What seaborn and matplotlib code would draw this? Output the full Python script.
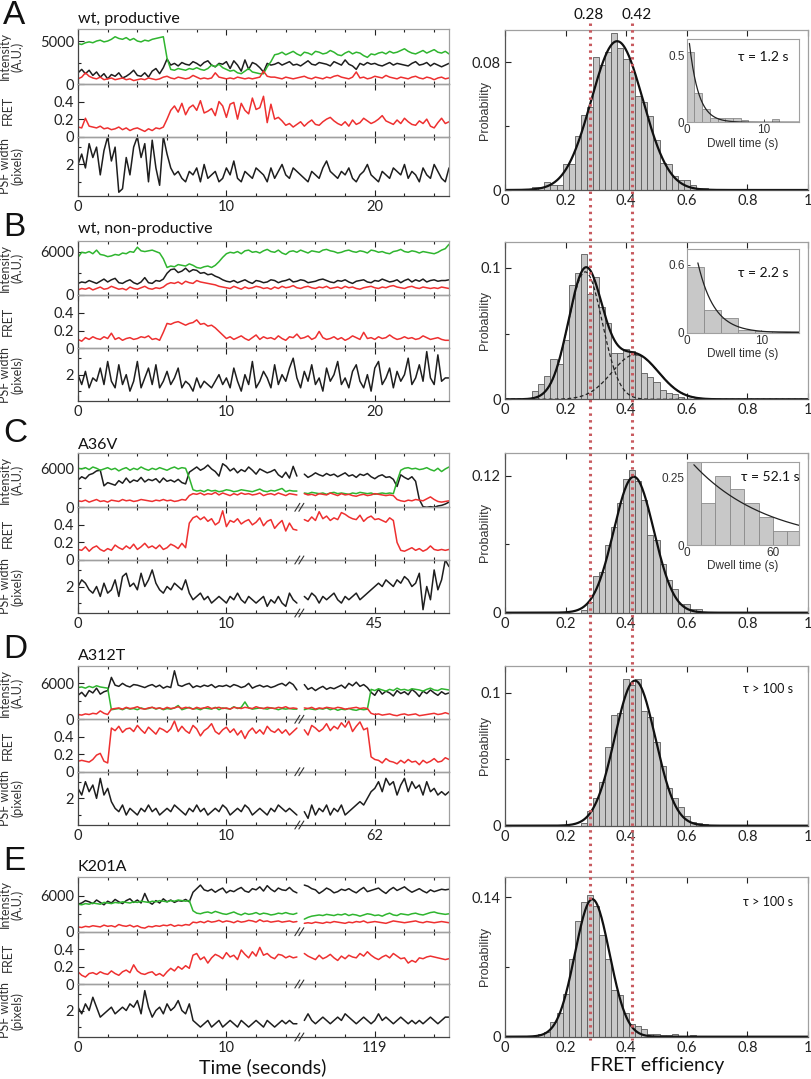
import numpy as np
import pandas as pd
import matplotlib
matplotlib.use('Agg')
import matplotlib.pyplot as plt
import seaborn as sns
from matplotlib.lines import Line2D
from matplotlib.ticker import FixedLocator, MultipleLocator

# ---------------------------------------------------------------- data
# time step of the traces (s)
DT = 0.25
panels = ['A', 'B', 'C', 'D', 'E']
titles = ['wt, productive', 'wt, non-productive', 'A36V', 'A312T', 'K201A']
third_tick = ['20', '20', '45', '62', '119']

# intensities in units of 100 A.U.; FRET in 0.01; PSF width in 0.1 pixel
A_green = [47,46,48,49,48,50,51,49,50,52,55,53,52,54,51,53,50,49,51,50,52,53,54,55,
           30,17,16,18,17,16,18,17,19,17,16,18,22,20,23,19,17,15,16,13,12,15,18,14,13,12,12,
           20,26,34,35,37,34,36,38,35,33,37,36,34,38,37,35,36,39,37,34,33,36,38,35,37,36,33,
           31,35,34,36,37,35,38,36,37,39,41,38,36,35,37,39,36,38,40,37,36,38,35]
A_black = [13,17,12,16,10,14,8,12,6,11,9,13,7,9,12,16,10,9,13,8,15,18,12,19,29,
           22,24,21,25,23,22,26,24,21,25,27,22,20,24,23,26,18,27,22,15,28,17,25,23,19,14,24,22,
           23,25,22,24,26,22,23,21,24,27,23,22,25,24,23,21,26,24,22,28,23,21,17,24,22,25,23,24,
           22,21,23,25,22,24,23,22,21,24,26,22,23,25,21,24,22,20,22,24]
A_red = [6,8,13,9,7,6,8,5,6,7,5,6,7,5,6,4,5,6,5,7,6,5,6,8,
         9,7,6,8,7,6,7,10,8,6,7,6,7,13,8,7,6,7,6,8,7,6,7,6,7,8,15,9,8,
         8,7,6,8,7,6,7,8,9,7,6,8,7,6,8,7,9,10,8,7,6,8,14,7,8,6,7,9,8,7,10,8,7,6,8,7,6,8,9,7,
         6,8,7,5,7,8,6,7]
A_fret = [11,10,21,12,11,10,12,9,10,8,9,11,8,10,7,9,10,8,6,9,7,10,9,11,20,
          30,35,28,38,25,33,36,30,41,27,29,32,24,40,35,22,37,39,20,38,30,26,44,31,33,46,16,37,
          20,22,18,13,15,11,14,17,12,16,19,14,13,17,20,22,18,15,13,17,12,19,14,16,21,18,15,17,
          20,24,18,16,14,19,15,21,17,14,13,18,15,20,12,10,16,21,15,17]
A_psf = [20,23,19,26,22,25,17,24,28,21,25,12,13,22,17,25,28,22,26,15,27,19,14,28,23,
         19,17,18,16,15,18,17,19,15,20,16,17,18,15,16,19,17,21,16,15,18,17,16,19,18,17,15,19,
         16,18,20,17,16,19,18,17,16,15,18,17,16,19,21,18,17,16,18,17,19,16,15,17,18,20,17,16,
         15,18,17,16,19,18,17,20,16,18,17,15,19,17,16,20,18,16,15,19]

B_green = [52,59,58,60,57,62,56,55,53,54,56,55,58,57,60,59,66,61,60,61,62,60,58,
           50,38,40,39,42,41,40,43,41,38,37,39,40,38,41,46,
           52,57,59,58,60,57,61,62,59,60,58,61,63,60,59,62,58,56,60,61,59,62,60,58,61,60,59,62,
           63,61,60,58,59,61,62,60,59,61,60,58,62,61,59,60,58,57,60,61,63,60,59,61,60,58,60,59,
           58,57,59,62,64,70]
B_black = [16,18,17,20,18,16,19,22,18,21,23,17,16,19,21,17,15,18,24,17,16,20,19,
           22,30,35,36,31,33,37,32,35,34,30,31,28,29,26,24,
           21,19,18,20,17,19,21,18,16,20,19,17,18,21,20,17,19,20,22,18,19,21,20,17,18,19,21,22,
           20,18,17,20,19,21,18,16,19,20,21,18,17,20,19,22,20,18,19,21,17,20,22,18,21,19,22,18,
           20,21,19,20,20,21]
B_red = [7,9,8,10,7,9,11,8,9,12,10,8,9,7,11,9,8,10,12,9,8,10,9,
         11,15,17,16,18,15,19,17,16,20,18,17,16,15,14,12,
         11,10,9,12,10,8,11,9,10,12,11,9,10,8,11,9,12,10,11,13,10,9,11,12,10,9,11,10,12,9,10,
         11,9,12,10,11,9,8,10,11,12,10,9,11,10,12,13,11,10,9,11,12,10,9,11,10,9,10,9,11,10,9]
B_fret = [10,8,12,10,13,11,10,13,11,17,10,12,9,11,12,10,11,13,12,14,10,11,9,
          18,28,27,29,30,28,26,28,29,32,27,28,25,26,23,19,
          15,11,13,10,12,14,11,9,12,15,10,13,11,12,10,14,11,9,13,12,16,11,12,14,10,12,19,12,10,
          11,13,10,12,9,11,14,12,10,18,11,12,10,13,11,12,15,12,10,11,13,11,12,10,11,14,12,10,
          11,12,10,9,9]
B_psf = [20,17,21,16,19,18,22,17,24,18,16,23,17,20,15,18,24,16,19,22,17,23,16,18,21,17,19,22,
         16,18,17,15,19,16,18,17,16,18,20,17,19,16,22,18,15,20,17,24,16,18,21,19,16,23,17,20,
         18,22,25,19,16,21,18,23,17,19,15,22,18,20,24,17,19,16,21,23,18,16,20,15,22,24,17,19,
         22,16,21,18,20,25,17,19,23,18,27,19,17,26,18,19,19]

# broken-axis panels: L = first segment (from 0 s), R = second segment
C_green_L = [60,59,61,58,62,60,57,59,61,58,60,56,59,61,57,60,58,62,59,57,60,58,61,59,57,60,62,
             59,61,60,45,27,25,26,24,27,25,26,24,25,27,26,24,25,27,26,25,24,26,28,25,24,26,25,
             27,29,24,26,25,25]
C_green_R = [22,21,23,22,21,22,20,22,23,21,22,21,20,22,21,23,22,21,22,20,21,22,21,22,21,
             40,57,60,61,59,60,58,59,61,58,56,60,55,59,62]
C_black_L = [42,47,44,50,52,56,57,33,38,36,34,41,37,45,38,42,40,46,39,43,41,44,38,45,40,42,39,
             43,38,36,54,58,62,57,60,65,59,55,48,67,63,56,60,53,58,55,62,57,51,59,56,53,55,58,
             50,46,54,45,63,48]
C_black_R = [51,46,49,53,50,48,52,49,51,47,50,53,48,50,46,51,49,52,47,44,48,50,46,47,43,
             32,50,46,43,47,40,12,1,0,1,0,2,3,5,8]
C_red_L = [10,9,11,8,10,12,9,10,8,11,10,9,12,10,11,9,10,12,11,10,9,11,10,12,10,11,9,10,12,11,
           18,21,20,22,19,21,20,23,19,22,20,18,21,19,22,20,21,19,20,22,18,20,21,19,22,20,18,21,
           20,19]
C_red_R = [21,19,20,18,21,20,19,22,20,18,21,19,20,18,17,19,20,18,19,21,20,19,18,19,18,
           12,10,9,11,10,12,11,10,13,16,12,9,8,9,10]
C_fret_L = [12,11,15,10,14,16,12,10,13,11,17,14,12,16,13,18,12,15,19,14,16,13,17,12,14,18,16,
            13,19,14,42,48,50,46,49,44,47,40,43,56,38,45,43,47,41,44,46,40,43,48,39,44,46,36,
            41,45,33,42,35,34]
C_fret_R = [46,44,49,45,55,47,50,45,48,46,54,52,49,47,46,51,44,48,50,46,47,45,43,48,45,
            20,11,10,12,14,11,13,10,12,16,12,11,12,11,12]
C_psf_L = [20,22,21,19,18,20,17,21,18,19,22,17,23,24,20,21,19,24,20,22,25,21,19,18,20,19,21,
           20,19,22,18,16,17,18,16,17,15,16,17,16,15,17,16,18,16,15,17,16,15,16,17,14,16,15,
           17,15,14,18,16,15]
C_psf_R = [17,16,18,17,15,17,16,17,18,16,15,17,16,17,18,16,17,18,19,20,21,20,22,21,20,
           22,21,23,22,20,21,24,13,20,16,25,19,22,28,26]

D_green_L = [53,54,52,55,53,56,54,53,52,16,17,18,16,19,17,18,16,19,17,18,20,17,19,16,18,17,19,
             23,16,18,20,17,18,16,19,18,17,20,16,19,18,17,21,18,20,29,19,17,18,19,18,17,19,18,
             16,18,17,18,17,17]
D_green_R = [16,18,17,16,18,17,19,16,18,15,17,16,18,16,15,17,16,17,
             50,48,51,49,47,50,48,52,49,50,48,51,50,49,47,50,52,49,48,51,50,49]
D_black_L = [40,45,38,48,44,52,42,46,48,70,57,55,60,56,54,58,57,55,53,56,58,54,57,52,55,53,81,
             57,55,58,60,53,56,54,57,55,58,53,56,55,57,54,58,56,53,55,60,52,55,57,54,56,53,55,
             58,60,56,62,58,49]
D_black_R = [58,50,53,48,52,55,50,53,51,54,57,52,60,56,62,55,58,53,
             45,40,50,42,47,44,39,48,43,46,41,50,45,38,47,43,49,44,40,46,42,44]
D_red_L = [8,7,9,8,10,9,14,10,8,17,18,19,17,20,18,19,21,18,17,19,20,18,19,17,20,18,19,21,18,
           20,19,17,20,18,19,21,18,19,20,18,19,17,20,19,18,20,19,18,21,19,18,20,19,18,20,19,21,
           18,19,18]
D_red_R = [19,18,20,17,19,18,20,19,18,20,19,17,18,19,20,18,19,18,
           10,8,9,7,8,9,7,6,8,9,7,8,9,6,7,8,9,10,8,9,11,9]
D_fret_L = [12,13,12,11,14,19,21,12,10,50,47,52,45,49,50,46,53,48,44,51,47,43,50,48,45,49,58,
            46,52,47,44,53,49,41,47,50,55,46,43,48,51,45,49,42,47,38,46,50,44,48,43,52,47,45,
            49,44,48,42,46,50]
D_fret_R = [48,42,53,50,46,49,55,47,52,49,56,51,58,46,52,57,48,50,
            17,14,13,10,15,12,11,9,13,10,14,11,12,8,13,10,12,15,11,12,16,14]
D_psf_L = [23,21,25,22,24,20,26,21,23,19,17,16,18,15,17,16,15,17,16,18,16,17,15,16,17,16,18,
           17,16,15,17,16,18,16,17,15,16,17,16,18,17,15,16,17,16,18,17,15,16,17,16,15,17,16,
           18,17,16,17,16,15]
D_psf_R = [16,14,18,15,17,16,18,15,17,16,18,15,16,17,18,19,18,20,
           22,23,25,22,26,24,25,21,24,26,22,25,23,24,21,25,22,23,21,22,21,22]

E_green_L = [46,45,47,46,48,47,46,49,48,47,49,48,50,49,48,50,49,51,50,49,51,50,52,51,50,52,51,
             53,52,51,52,35,31,30,32,33,31,34,32,30,29,31,33,30,28,31,29,30,32,29,31,30,28,29,
             31,30,32,30,29,31]
E_green_R = [21,24,26,27,28,27,29,28,27,29,28,30,27,29,28,26,28,30,29,27,28,26,29,31,28,27,30,
             29,28,30,31,29,28,30,32,33,31,30,29,30]
E_black_L = [46,48,52,50,47,53,49,45,51,48,54,50,47,52,55,49,53,48,64,50,46,52,48,55,50,53,49,
             52,51,54,50,66,72,78,70,68,71,66,70,73,65,69,67,71,74,68,66,72,70,75,68,77,71,67,
             73,70,69,74,68,65]
E_black_R = [78,76,72,70,64,68,73,70,65,67,71,69,72,68,65,70,74,67,69,71,73,68,64,70,74,69,72,
             75,70,66,69,72,68,65,70,67,69,71,70,71]
E_red_L = [8,7,9,8,10,9,8,11,9,10,8,12,10,9,11,8,10,7,6,9,8,10,9,11,10,12,9,11,10,12,11,
           16,15,17,15,18,16,17,19,16,18,17,15,18,16,17,19,18,16,20,17,18,16,17,18,16,17,18,16,17]
E_red_R = [14,15,14,16,15,14,16,15,17,16,15,14,16,15,17,16,18,15,16,17,16,15,14,16,18,17,16,
           15,16,17,18,16,15,17,16,15,16,17,16,15]
E_fret_L = [14,10,8,12,13,11,14,12,11,15,12,10,14,16,13,22,15,12,11,13,14,10,12,9,14,18,15,20,
            17,21,18,33,35,28,31,24,30,34,32,29,36,31,33,28,39,34,30,37,32,42,33,35,31,29,34,
            33,30,32,30,31]
E_fret_R = [35,32,30,28,33,29,31,34,30,27,32,29,33,31,30,35,32,37,33,30,28,31,33,30,35,32,29,
            30,24,27,25,30,29,31,32,31,30,29,28,29]
E_psf_L = [21,19,22,20,24,21,18,19,20,21,19,20,21,20,22,21,23,19,26,21,18,20,21,19,22,20,21,
           23,20,19,22,17,16,15,16,17,15,16,17,15,16,17,16,15,17,16,15,16,17,16,15,17,16,15,
           16,17,16,17,16,16]
E_psf_R = [17,19,17,16,17,18,17,16,17,18,17,19,18,17,16,17,18,17,16,17,19,17,18,17,16,17,18,
           17,16,17,16,17,16,17,18,17,16,17,18,18]

# FRET histograms: first bin centre and bar heights (bin width 0.02)
hist_start = [0.10, 0.10, 0.26, 0.26, 0.12]
hist_A = [0.002,0.002,0.005,0.003,0.003,0.016,0.016,0.034,0.047,0.052,0.083,0.078,0.086,0.098,
          0.089,0.082,0.074,0.059,0.055,0.046,0.031,0.017,0.016,0.009,0.006,0.006,0.003,0.0015,0.001]
hist_B = [0.006,0.012,0.018,0.031,0.027,0.045,0.087,0.096,0.111,0.080,0.093,0.070,0.058,0.035,
          0.035,0.038,0.037,0.034,0.020,0.017,0.013,0.007,0.005,0.004,0.002]
hist_C = [0.002,0.009,0.032,0.036,0.059,0.075,0.096,0.117,0.125,0.115,0.099,0.068,0.064,0.043,
          0.029,0.021,0.008,0.008,0.003,0.003]
hist_D = [0.002,0.011,0.021,0.033,0.059,0.083,0.085,0.110,0.106,0.110,0.086,0.082,0.063,0.045,
          0.028,0.021,0.014,0.007,0.003,0.002,0.001]
hist_E = [0.003,0.005,0.015,0.024,0.043,0.078,0.116,0.135,0.142,0.131,0.102,0.078,0.047,0.042,
          0.024,0.013,0.011,0.008,0.003,0.003,0.002,0.002,0.003,0.001,0.001,0.002]
# Gaussian fit parameters
fit_mu = [[0.37], [0.265, 0.43], [0.425], [0.429], [0.288]]
fit_sd = [[0.085], [0.056, 0.077], [0.066], [0.067], [0.057]]
fit_amp = [[0.093], [0.097, 0.034], [0.119], [0.109], [0.138]]

# dwell-time insets
dwell_width = [1.0, 2.3, 10.0]
dwell_A = [0.52,0.215,0.10,0.035,0.035,0.035,0.035,0.015,0.005,0.003,0.003,0.025,0.003,0.005,0.005]
dwell_B = [0.58,0.20,0.127,0.02,0.015,0.015,0.015]
dwell_C = [0.32,0.154,0.256,0.207,0.154,0.105,0.052,0.052]
dwell_tau = [1.2, 2.2, 52.1]
dwell_amp = [0.786, 1.22, 0.326]
dwell_t0 = [0.35, 1.5, 5.0]
tau_text = ['τ = 1.2 s', 'τ = 2.2 s', 'τ = 52.1 s', 'τ > 100 s', 'τ > 100 s']
ref_lines = [0.28, 0.42]

# ---------------------------------------------------------------- style
sns.set_theme(style='white')
plt.rcParams['font.family'] = ['Lato', 'DejaVu Sans']
plt.rcParams['axes.linewidth'] = 0.9

W, H = 812, 1079
fig = plt.figure(figsize=(W / 100, H / 100), dpi=100)
fig.patch.set_facecolor('white')


def add_ax(l, t, r, b):
    return fig.add_axes([l / W, 1 - b / H, (r - l) / W, (b - t) / H])


def pline(xs, ys, **kw):
    fig.add_artist(Line2D([x / W for x in xs], [1 - y / H for y in ys],
                          transform=fig.transFigure, **kw))


def bar_hist(ax, centers, heights, width, face, edge):
    df = pd.DataFrame({'x': np.asarray(centers, float), 'w': np.asarray(heights, float)})
    edges = [float(c - width / 2) for c in centers] + [float(centers[-1] + width / 2)]
    sns.histplot(data=df, x='x', weights='w', bins=edges, ax=ax, color=face,
                 edgecolor=edge, linewidth=0.6, alpha=1)


GREEN, RED, BLACK = '#2fb52f', '#ee3030', '#1e1e1e'
ARIAL = ['Liberation Sans', 'DejaVu Sans']

ROWS = {'A': (29, 84, 136.7, 195.7), 'B': (240.7, 295, 348.3, 401),
        'C': (452.7, 507.3, 560, 613), 'D': (666, 719.3, 771.7, 825),
        'E': (877.3, 931.7, 984, 1037)}
HROWS = {'A': (30, 190), 'B': (241.7, 399.3), 'C': (452.7, 612.7),
         'D': (666, 825.7), 'E': (877.3, 1036.7)}
ILIM = {'A': (6400, 5000), 'B': (7500, 6000), 'C': (8400, 6000), 'D': (8900, 6000), 'E': (9100, 6000)}
HLIM = {'A': (0.1, 0.08, '0.08'), 'B': (0.12, 0.1, '0.1'), 'C': (0.14, 0.12, '0.12'),
        'D': (0.12, 0.1, '0.1'), 'E': (0.16, 0.14, '0.14')}
LETTER_Y = {'A': 15, 'B': 228, 'C': 434, 'D': 650, 'E': 862}
TITLE_Y = {'A': 19, 'B': 229, 'C': 445, 'D': 656, 'E': 867}
INSETS = {'A': (39, 122.3, 0.62, 0.5, '0.5', 14.6, 10),
          'B': (249, 332.7, 0.74, 0.6, '0.6', 15.1, 10),
          'C': (461.7, 545, 0.3075, 0.25, '0.25', 78.4, 60)}
TAU_POS = {'A': (763, 57), 'B': (763, 273), 'C': (770, 477), 'D': (768, 689), 'E': (768, 902)}

X0, X1 = 78, 449
HX0, HX1 = 505, 808


def style_trace(ax, last, labels):
    ax.set_xlim(0, 25)
    ax.xaxis.set_major_locator(FixedLocator([0, 10, 20]))
    ax.xaxis.set_minor_locator(MultipleLocator(2))
    ax.tick_params(which='both', direction='in', top=True, bottom=True, left=True,
                   right=False, labelsize=10.5, colors='#222', width=0.8, pad=3)
    ax.tick_params(which='major', length=4)
    ax.tick_params(which='minor', length=2.5)
    if last:
        ax.set_xticklabels(labels)
    else:
        ax.tick_params(labelbottom=False)
    for s in ['top', 'right']:
        ax.spines[s].set_color('#a0a0a0')
    for s in ['left', 'bottom']:
        ax.spines[s].set_color('#444444')
    ax.set_xlabel('')
    ax.set_ylabel('')
    ax.patch.set_alpha(0)


def draw(ax, arrs, color, broken, scale):
    if broken:
        L, R = arrs
        tL = np.arange(len(L)) * DT
        tR = 15.25 + np.arange(len(R)) * DT
        sns.lineplot(x=tL, y=np.array(L) * scale, ax=ax, color=color, lw=1.1)
        sns.lineplot(x=tR, y=np.array(R) * scale, ax=ax, color=color, lw=1.1)
    else:
        t = np.arange(len(arrs)) * DT
        sns.lineplot(x=t, y=np.array(arrs) * scale, ax=ax, color=color, lw=1.1)


G = globals()
for k, p in enumerate(panels):
    top, b1, b2, bot = ROWS[p]
    broken = p in ('C', 'D', 'E')

    def get(name):
        if broken:
            return (G[f'{p}_{name}_L'], G[f'{p}_{name}_R'])
        return G[f'{p}_{name}']

    # intensity
    ax_i = add_ax(X0, top, X1, b1)
    draw(ax_i, get('black'), BLACK, broken, 100)
    draw(ax_i, get('green'), GREEN, broken, 100)
    draw(ax_i, get('red'), RED, broken, 100)
    ymax, ytk = ILIM[p]
    ax_i.set_ylim(0, ymax)
    style_trace(ax_i, False, None)
    ax_i.set_yticks([0, ytk])
    ax_i.set_yticklabels(['0', str(ytk)])
    ax_i.yaxis.set_minor_locator(FixedLocator([ytk / 2]))

    # FRET
    ax_f = add_ax(X0, b1, X1, b2)
    draw(ax_f, get('fret'), RED, broken, 0.01)
    ax_f.set_ylim(0, 0.6)
    style_trace(ax_f, False, None)
    ax_f.set_yticks([0, 0.2, 0.4])
    ax_f.set_yticklabels(['0', '0.2', '0.4'])

    # PSF width
    ax_p = add_ax(X0, b2, X1, bot)
    draw(ax_p, get('psf'), BLACK, broken, 0.1)
    ax_p.set_ylim(1.1 if p == 'A' else 1.2, 2.8)
    style_trace(ax_p, True, ['0', '10', third_tick[k]])
    ax_p.set_yticks([2])
    ax_p.set_yticklabels(['2'])
    ax_p.yaxis.set_minor_locator(FixedLocator([1.5, 2.5]))

    # axis labels
    fig.text(11 / W, 1 - (top + b1) / 2 / H, 'Intensity\n(A.U.)', rotation=90, ha='center',
             va='center', fontsize=9, color='#333', linespacing=1.0, multialignment='center')
    fig.text(8 / W, 1 - (b1 + b2) / 2 / H, 'FRET', rotation=90, ha='center', va='center',
             fontsize=9, color='#333')
    fig.text(11 / W, 1 - (b2 + bot) / 2 / H, 'PSF width\n(pixels)', rotation=90, ha='center',
             va='center', fontsize=9, color='#333', linespacing=1.0, multialignment='center')

    # break marks
    if broken:
        xb = X0 + 14.95 * (X1 - X0) / 25
        for yb in (b1, b2, bot):
            for dx in (-2.5, 1.5):
                pline([xb + dx - 2.5, xb + dx + 2.5], [yb + 4, yb - 4], color='#333', lw=0.8)

    # letter & title
    fig.text(3 / W, 1 - LETTER_Y[p] / H, p, fontsize=24, ha='left', va='center',
             family=ARIAL, color='#111')
    fig.text(X0 / W, 1 - TITLE_Y[p] / H, titles[k], fontsize=11.5, ha='left', va='center',
             color='#111')

    # ---------------------------------------------------- FRET histogram
    ht, hb = HROWS[p]
    ax_h = add_ax(HX0, ht, HX1, hb)
    heights = G[f'hist_{p}']
    centers = [hist_start[k] + 0.02 * i for i in range(len(heights))]
    bar_hist(ax_h, centers, heights, 0.02, '#c8c8c8', '#5a5a5a')
    xs = np.linspace(0, 1, 500)
    comps = [a * np.exp(-(xs - m) ** 2 / (2 * s ** 2))
             for m, s, a in zip(fit_mu[k], fit_sd[k], fit_amp[k])]
    if len(comps) > 1:
        for c in comps:
            sns.lineplot(x=xs, y=c, ax=ax_h, color='#222', lw=0.9, linestyle=(0, (3, 2)))
    sns.lineplot(x=xs, y=np.sum(comps, axis=0), ax=ax_h, color='#111', lw=1.6)
    hmax, htk, hlab = HLIM[p]
    ax_h.set_xlim(0, 1)
    ax_h.set_ylim(0, hmax)
    ax_h.set_xticks([0, 0.2, 0.4, 0.6, 0.8, 1])
    ax_h.set_xticklabels(['0', '0.2', '0.4', '0.6', '0.8', '1'])
    ax_h.set_yticks([0, htk])
    ax_h.set_yticklabels(['0', hlab])
    ax_h.yaxis.set_minor_locator(FixedLocator([htk / 2]))
    ax_h.tick_params(which='both', direction='in', top=True, bottom=True, left=True,
                     right=False, labelsize=10.5, colors='#222', width=0.8, pad=3)
    ax_h.tick_params(which='major', length=4.5)
    ax_h.tick_params(which='minor', length=3)
    for s in ['top', 'right']:
        ax_h.spines[s].set_color('#a0a0a0')
    for s in ['left', 'bottom']:
        ax_h.spines[s].set_color('#555555')
    ax_h.set_xlabel('')
    ax_h.set_ylabel('')
    fig.text(485 / W, 1 - (ht + hb) / 2 / H, 'Probability', rotation=90, ha='center',
             va='center', fontsize=9, family=ARIAL, color='#333')

    # ---------------------------------------------------- dwell-time inset
    if p in INSETS:
        it, ib, iymax, iytk, iylab, ixmax, ixtk = INSETS[p]
        ax_in = add_ax(686.7, it, 799.3, ib)
        ax_in.set_facecolor('white')
        dh = G[f'dwell_{p}']
        w = dwell_width[k]
        dc = [w / 2 + w * i for i in range(len(dh))]
        bar_hist(ax_in, dc, dh, w, '#c8c8c8', '#8a8a8a')
        tt = np.linspace(dwell_t0[k], ixmax, 200)
        sns.lineplot(x=tt, y=dwell_amp[k] * np.exp(-tt / dwell_tau[k]), ax=ax_in,
                     color='#222', lw=0.9)
        ax_in.set_xlim(0, ixmax)
        ax_in.set_ylim(0, iymax)
        ax_in.set_xticks([0, ixtk])
        ax_in.set_xticklabels(['0', str(ixtk)])
        ax_in.set_yticks([0, iytk])
        ax_in.set_yticklabels(['0', iylab])
        ax_in.tick_params(which='both', direction='in', top=False, bottom=True, left=True,
                          right=False, labelsize=8.5, colors='#333', width=0.6, length=2.5,
                          pad=1.5)
        for lab in ax_in.get_xticklabels() + ax_in.get_yticklabels():
            lab.set_family(ARIAL)
        for s in ax_in.spines.values():
            s.set_color('#a0a0a0')
            s.set_linewidth(0.8)
        ax_in.set_xlabel('Dwell time (s)', fontsize=8.5, family=ARIAL, color='#333',
                         labelpad=1)
        ax_in.set_ylabel('')

    tx, ty = TAU_POS[p]
    fig.text(tx / W, 1 - ty / H, tau_text[k], fontsize=10 if p in INSETS else 9,
             ha='center', va='center', color='#111', zorder=10)

# reference dotted lines across the histogram column
for v, lx in zip(ref_lines, [589, 637]):
    xp = HX0 + v * (HX1 - HX0)
    pline([xp, xp], [23, 1040], color='#c85a5f', lw=2.2, linestyle=(0, (0.8, 1.4)),
          zorder=5)
    fig.text(lx / W, 1 - 15 / H, f'{v:.2f}', fontsize=11, ha='center', va='center',
             color='#111')

fig.text(263 / W, 1 - 1067 / H, 'Time (seconds)', fontsize=14, ha='center', va='center',
         color='#111')
fig.text(657 / W, 1 - 1066 / H, 'FRET efficiency', fontsize=14, ha='center', va='center',
         color='#111')

fig.savefig('out.png', dpi=100, facecolor='white')
